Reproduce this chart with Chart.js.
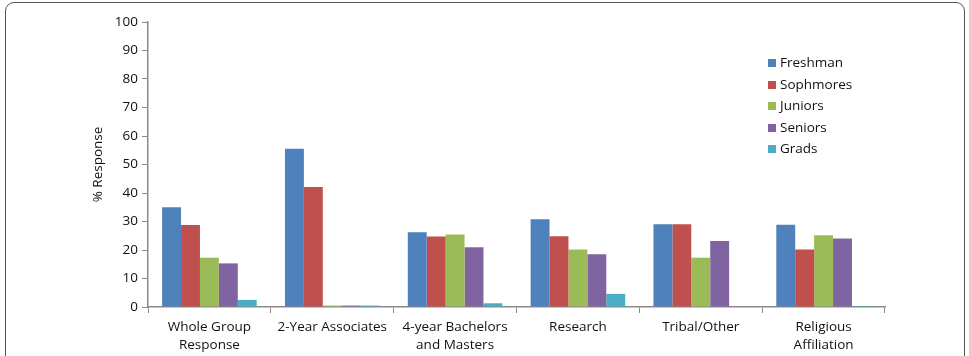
<!DOCTYPE html>
<html>
<head>
<meta charset="utf-8">
<script src="https://cdn.jsdelivr.net/npm/chart.js@4"></script>
<style>
  html, body { margin: 0; padding: 0; background: #fff; }
  #wrap { position: relative; width: 969px; height: 356px; overflow: hidden; }
  #frame {
    position: absolute; left: 5px; top: 2px; width: 960px; height: 400px;
    border: 1.5px solid #555; border-radius: 9px; box-sizing: border-box;
  }
  #legend {
    position: absolute; left: 768px; top: 52px;
    font: 13.5px "Open Sans", sans-serif; color: #111;
  }
  #legend div { height: 21.5px; line-height: 21.5px; white-space: nowrap; }
  #legend span {
    display: inline-block; width: 8px; height: 8px; margin-right: 4px; vertical-align: 0px;
  }
</style>
</head>
<body>
<div id="wrap">
  <canvas id="chart" width="969" height="356"></canvas>
  <div id="frame"></div>
  <div id="legend"></div>
</div>
<script>
const categories = [
  ['Whole Group', 'Response'],
  '2-Year Associates',
  ['4-year Bachelors', 'and Masters'],
  'Research',
  'Tribal/Other',
  ['Religious', 'Affiliation']
];

const seriesNames = ['Freshman', 'Sophmores', 'Juniors', 'Seniors', 'Grads'];
const seriesColors = ['#4F81BD', '#C0504D', '#9BBB59', '#8064A2', '#4BACC6'];

const freshman = [35.0, 55.5, 26.2, 30.8, 29.0, 28.9];
const sophmores = [28.8, 42.1, 24.7, 24.8, 29.0, 20.2];
const juniors = [17.3, 0.5, 25.4, 20.2, 17.3, 25.2];
const seniors = [15.3, 0.5, 21.0, 18.5, 23.2, 24.0];
const grads = [2.5, 0.5, 1.3, 4.6, 0, 0.3];

const yTicks = [0, 10, 20, 30, 40, 50, 60, 70, 80, 90, 100];

const seriesValues = [freshman, sophmores, juniors, seniors, grads];

const fontFamily = '"Open Sans", sans-serif';
const axisGray = '#8a8a8a';

const legendBox = document.getElementById('legend');
seriesNames.forEach((name, i) => {
  const row = document.createElement('div');
  const sw = document.createElement('span');
  sw.style.background = seriesColors[i];
  row.appendChild(sw);
  row.appendChild(document.createTextNode(name));
  legendBox.appendChild(row);
});

const ctx = document.getElementById('chart').getContext('2d');
const chart = new Chart(ctx, {
  type: 'bar',
  data: {
    labels: categories,
    datasets: seriesNames.map((name, i) => ({
      label: name,
      data: seriesValues[i],
      backgroundColor: seriesColors[i],
      borderWidth: 0,
      categoryPercentage: 0.77,
      barPercentage: 1.0
    }))
  },
  options: {
    responsive: false,
    animation: false,
    layout: { padding: { left: 86, right: 84, top: 22, bottom: 0 } },
    plugins: {
      legend: { display: false },
      tooltip: { enabled: false }
    },
    scales: {
      x: {
        grid: {
          display: true,
          offset: true,
          drawOnChartArea: false,
          drawTicks: true,
          tickLength: 6,
          color: axisGray
        },
        border: { color: axisGray, width: 1.5 },
        ticks: {
          color: '#111',
          font: { family: fontFamily, size: 13.5, lineHeight: 1.35 },
          maxRotation: 0,
          autoSkip: false,
          padding: 5
        },
        afterFit: s => { s.height = 49; }
      },
      y: {
        min: 0,
        max: 100,
        afterBuildTicks: s => { s.ticks = yTicks.map(v => ({ value: v })); },
        grid: {
          drawOnChartArea: false,
          drawTicks: true,
          tickLength: 6,
          color: axisGray
        },
        border: { color: axisGray, width: 1.5 },
        ticks: {
          color: '#111',
          font: { family: fontFamily, size: 13.5 },
          padding: 4
        },
        title: {
          display: true,
          text: '% Response',
          color: '#111',
          font: { family: fontFamily, size: 13.5 },
          padding: { top: 4, bottom: 0 }
        },
        afterFit: s => { s.width = 62; }
      }
    }
  }
});
</script>
</body>
</html>
